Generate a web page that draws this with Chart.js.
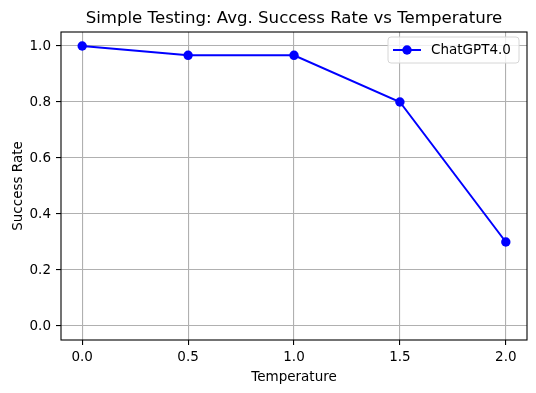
<!DOCTYPE html>
<html>
<head>
<meta charset="utf-8">
<script src="https://cdn.jsdelivr.net/npm/chart.js@4/dist/chart.umd.min.js"></script>
<style>
  html, body { margin: 0; padding: 0; background: #fff; }
  #wrap { width: 536px; height: 393px; }
</style>
</head>
<body>
<div id="wrap"><canvas id="chart" width="536" height="393"></canvas></div>
<script>
// data
const temperatures = [0.0, 0.5, 1.0, 1.5, 2.0];
const successRates = [1.0, 0.9667, 0.9667, 0.8, 0.3];
const seriesLabel = 'ChatGPT4.0';
const xTicks = [0.0, 0.5, 1.0, 1.5, 2.0];
const yTicks = [0.0, 0.2, 0.4, 0.6, 0.8, 1.0];

const FONT = 'DejaVu Sans';
const SIZE = 13.5;

// matplotlib-ish frame, title and legend
const mplExtras = {
  id: 'mplExtras',
  afterDatasetsDraw(chart) {
    const { ctx, chartArea: a } = chart;
    ctx.save();
    ctx.strokeStyle = '#000';
    ctx.lineWidth = 1.1;
    ctx.strokeRect(a.left, a.top, a.right - a.left, a.bottom - a.top);
    ctx.restore();
  },
  afterDraw(chart) {
    const { ctx, chartArea: a } = chart;
    ctx.save();
    // title
    ctx.fillStyle = '#000';
    ctx.font = '16.6px "' + FONT + '"';
    ctx.textAlign = 'center';
    ctx.textBaseline = 'middle';
    ctx.fillText('Simple Testing: Avg. Success Rate vs Temperature', (a.left + a.right) / 2, 18.5);

    // legend
    const ds = chart.data.datasets[0];
    const bx = 388, by = 37, bw = 131, bh = 26, r = 3;
    ctx.beginPath();
    ctx.moveTo(bx + r, by);
    ctx.arcTo(bx + bw, by, bx + bw, by + bh, r);
    ctx.arcTo(bx + bw, by + bh, bx, by + bh, r);
    ctx.arcTo(bx, by + bh, bx, by, r);
    ctx.arcTo(bx, by, bx + bw, by, r);
    ctx.closePath();
    ctx.fillStyle = 'rgba(255,255,255,0.8)';
    ctx.fill();
    ctx.strokeStyle = '#d6d6d6';
    ctx.lineWidth = 1;
    ctx.stroke();

    const cy = by + bh / 2;
    ctx.strokeStyle = ds.borderColor;
    ctx.lineWidth = 2;
    ctx.beginPath();
    ctx.moveTo(bx + 5, cy);
    ctx.lineTo(bx + 33, cy);
    ctx.stroke();
    ctx.fillStyle = ds.pointBackgroundColor;
    ctx.beginPath();
    ctx.arc(bx + 19, cy, 4.7, 0, Math.PI * 2);
    ctx.fill();

    ctx.fillStyle = '#000';
    ctx.font = SIZE + 'px "' + FONT + '"';
    ctx.textAlign = 'left';
    ctx.fillText(ds.label, bx + 43, cy + 0.5);
    ctx.restore();
  }
};

const gridStyle = {
  color: '#b0b0b0',
  lineWidth: 1.1,
  drawTicks: true,
  tickLength: 5,
  tickColor: '#000',
  tickWidth: 1.1
};

new Chart(document.getElementById('chart'), {
  type: 'scatter',
  data: {
    datasets: [{
      label: seriesLabel,
      data: temperatures.map((t, i) => ({ x: t, y: successRates[i] })),
      showLine: true,
      borderColor: '#0000ff',
      backgroundColor: '#0000ff',
      pointBackgroundColor: '#0000ff',
      pointBorderWidth: 0,
      pointRadius: 4.7,
      borderWidth: 2
    }]
  },
  options: {
    responsive: false,
    animation: false,
    layout: { padding: { top: 32, right: 9, left: 0, bottom: 0 } },
    plugins: {
      legend: { display: false },
      title: { display: false },
      tooltip: { enabled: false }
    },
    scales: {
      x: {
        type: 'linear',
        min: -0.1,
        max: 2.1,
        afterBuildTicks: s => { s.ticks = xTicks.map(v => ({ value: v })); },
        afterFit: s => { s.height = 53; },
        grid: gridStyle,
        border: { display: false },
        ticks: {
          autoSkip: false,
          maxRotation: 0,
          padding: 4,
          color: '#000',
          font: { family: FONT, size: SIZE },
          callback: v => Number(v).toFixed(1)
        },
        title: {
          display: true,
          text: 'Temperature',
          color: '#000',
          font: { family: FONT, size: SIZE },
          padding: { top: 0, bottom: 7 }
        }
      },
      y: {
        type: 'linear',
        min: -0.05,
        max: 1.05,
        afterBuildTicks: s => { s.ticks = yTicks.map(v => ({ value: v })); },
        afterFit: s => { s.width = 61; },
        grid: gridStyle,
        border: { display: false },
        ticks: {
          autoSkip: false,
          padding: 5,
          color: '#000',
          font: { family: FONT, size: SIZE },
          callback: v => Number(v).toFixed(1)
        },
        title: {
          display: true,
          text: 'Success Rate',
          color: '#000',
          font: { family: FONT, size: SIZE },
          padding: { top: 10, bottom: 0 }
        }
      }
    }
  },
  plugins: [mplExtras]
});
</script>
</body>
</html>
